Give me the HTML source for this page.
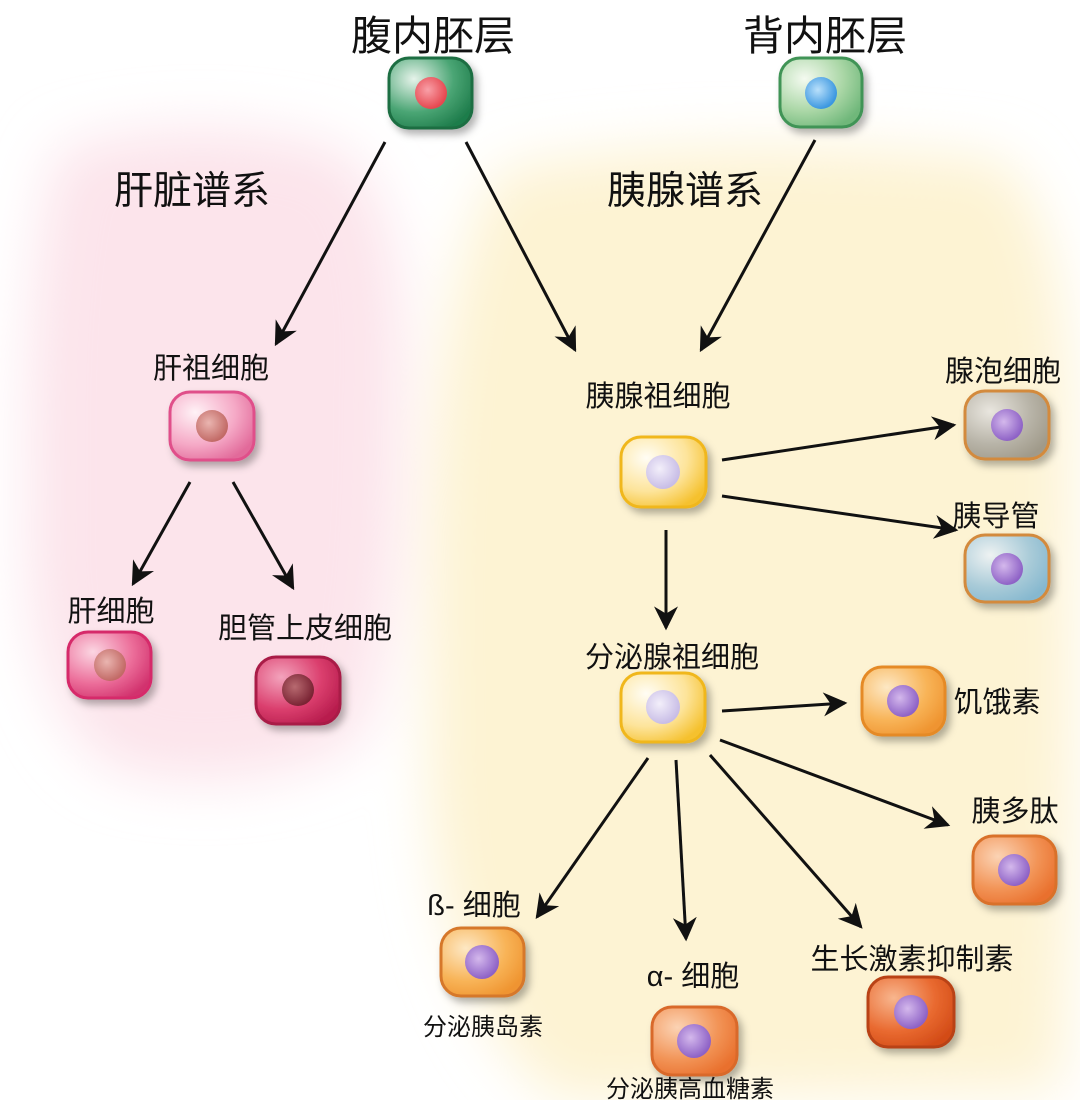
<!DOCTYPE html>
<html><head><meta charset="utf-8"><style>
html,body{margin:0;padding:0;background:#fff;}
svg text{font-family:"Liberation Sans","Noto Sans CJK SC",sans-serif;fill:#111;}
</style></head><body>
<svg width="1080" height="1100" viewBox="0 0 1080 1100" xmlns="http://www.w3.org/2000/svg">
<defs>
<filter id="blur" x="-20%" y="-20%" width="140%" height="140%"><feGaussianBlur stdDeviation="28"/></filter>
<filter id="sh" x="-30%" y="-30%" width="160%" height="160%"><feDropShadow dx="4" dy="5" stdDeviation="4" flood-color="#000" flood-opacity="0.3"/></filter>
<marker id="ah" viewBox="0 0 10 10" refX="9" refY="5" markerWidth="8" markerHeight="8" orient="auto"><path d="M0,0 L10,5 L0,10 L3,5 z" fill="#111"/></marker>
<radialGradient id="gG" cx="0.3" cy="0.3" r="0.8"><stop offset="0" stop-color="#e6f3ea"/><stop offset="0.6" stop-color="#4aa574"/><stop offset="1" stop-color="#1f7d4c"/></radialGradient>
<radialGradient id="gG2" cx="0.3" cy="0.3" r="0.8"><stop offset="0" stop-color="#f4faf0"/><stop offset="0.6" stop-color="#a9d6a5"/><stop offset="1" stop-color="#6fb77a"/></radialGradient>
<radialGradient id="gP" cx="0.3" cy="0.3" r="0.8"><stop offset="0" stop-color="#fff2f6"/><stop offset="0.6" stop-color="#f5a9c6"/><stop offset="1" stop-color="#e26a9a"/></radialGradient>
<radialGradient id="gP2" cx="0.3" cy="0.3" r="0.8"><stop offset="0" stop-color="#fbd6e2"/><stop offset="0.6" stop-color="#ec6e9a"/><stop offset="1" stop-color="#d2336e"/></radialGradient>
<radialGradient id="gP3" cx="0.3" cy="0.3" r="0.8"><stop offset="0" stop-color="#f3a3bc"/><stop offset="0.6" stop-color="#db3f6e"/><stop offset="1" stop-color="#b81d4e"/></radialGradient>
<radialGradient id="gY" cx="0.3" cy="0.3" r="0.8"><stop offset="0" stop-color="#fffdf5"/><stop offset="0.6" stop-color="#fde49a"/><stop offset="1" stop-color="#f5c12f"/></radialGradient>
<radialGradient id="gO" cx="0.3" cy="0.3" r="0.8"><stop offset="0" stop-color="#fde8c4"/><stop offset="0.6" stop-color="#f8b458"/><stop offset="1" stop-color="#ef9430"/></radialGradient>
<radialGradient id="gO2" cx="0.3" cy="0.3" r="0.8"><stop offset="0" stop-color="#fbd3b4"/><stop offset="0.6" stop-color="#f29457"/><stop offset="1" stop-color="#e9702d"/></radialGradient>
<radialGradient id="gR" cx="0.3" cy="0.3" r="0.8"><stop offset="0" stop-color="#f8b68e"/><stop offset="0.6" stop-color="#e96a30"/><stop offset="1" stop-color="#d34c18"/></radialGradient>
<radialGradient id="gA" cx="0.3" cy="0.3" r="0.8"><stop offset="0" stop-color="#e9e6df"/><stop offset="0.6" stop-color="#b8b4a8"/><stop offset="1" stop-color="#a09a8a"/></radialGradient>
<radialGradient id="gB" cx="0.3" cy="0.3" r="0.8"><stop offset="0" stop-color="#eef2f2"/><stop offset="0.6" stop-color="#a9cbd8"/><stop offset="1" stop-color="#86b8cf"/></radialGradient>
<radialGradient id="nR" cx="0.4" cy="0.4" r="0.6"><stop offset="0" stop-color="#f9a0a8"/><stop offset="1" stop-color="#e5474f"/></radialGradient>
<radialGradient id="nB" cx="0.4" cy="0.4" r="0.6"><stop offset="0" stop-color="#b9e0fb"/><stop offset="1" stop-color="#3b97e0"/></radialGradient>
<radialGradient id="nPk" cx="0.4" cy="0.4" r="0.6"><stop offset="0" stop-color="#eab5b0"/><stop offset="1" stop-color="#c26a66"/></radialGradient>
<radialGradient id="nDk" cx="0.4" cy="0.4" r="0.6"><stop offset="0" stop-color="#b86a70"/><stop offset="1" stop-color="#7a2434"/></radialGradient>
<radialGradient id="nL" cx="0.4" cy="0.4" r="0.6"><stop offset="0" stop-color="#f3effa"/><stop offset="1" stop-color="#c8bde6"/></radialGradient>
<radialGradient id="nV" cx="0.4" cy="0.4" r="0.6"><stop offset="0" stop-color="#d4b8ec"/><stop offset="1" stop-color="#8e62c6"/></radialGradient>
</defs>

<g filter="url(#blur)">
<path d="M60,150 Q200,110 340,150 Q410,200 400,400 Q400,650 360,740 Q250,800 120,770 Q20,720 30,500 Q25,250 60,150 Z" fill="#fce4eb"/>
<path d="M500,170 Q700,130 1000,160 Q1075,220 1070,500 Q1075,900 1060,1090 L560,1100 Q420,1000 430,700 Q420,300 500,170 Z" fill="#fdf3d3"/>
</g>

<g stroke="#111" stroke-width="3" fill="none" marker-end="url(#ah)">
<line x1="385" y1="142" x2="276" y2="344"/>
<line x1="466" y1="142" x2="575" y2="350"/>
<line x1="815" y1="140" x2="701" y2="350"/>
<line x1="190" y1="482" x2="133" y2="584"/>
<line x1="233" y1="482" x2="293" y2="588"/>
<line x1="722" y1="460" x2="954" y2="425"/>
<line x1="722" y1="496" x2="956" y2="530"/>
<line x1="666" y1="530" x2="666" y2="628"/>
<line x1="722" y1="711" x2="845" y2="703"/>
<line x1="720" y1="740" x2="948" y2="825"/>
<line x1="648" y1="758" x2="537" y2="917"/>
<line x1="676" y1="760" x2="686" y2="939"/>
<line x1="710" y1="755" x2="861" y2="927"/>
</g>

<g filter="url(#sh)" stroke-width="3">
<rect x="389" y="58" width="83" height="70" rx="20" fill="url(#gG)" stroke="#1b6e42"/>
<rect x="780" y="58" width="82" height="69" rx="20" fill="url(#gG2)" stroke="#3f9457"/>
<rect x="170" y="392" width="84" height="68" rx="20" fill="url(#gP)" stroke="#e0508a"/>
<rect x="68" y="632" width="83" height="66" rx="20" fill="url(#gP2)" stroke="#d6296a"/>
<rect x="256" y="657" width="84" height="67" rx="20" fill="url(#gP3)" stroke="#a91a46"/>
<rect x="621" y="437" width="85" height="70" rx="20" fill="url(#gY)" stroke="#f0b71e"/>
<rect x="965" y="391" width="84" height="68" rx="20" fill="url(#gA)" stroke="#d38a3c"/>
<rect x="965" y="535" width="84" height="67" rx="20" fill="url(#gB)" stroke="#d38a3c"/>
<rect x="621" y="673" width="84" height="69" rx="20" fill="url(#gY)" stroke="#f0b71e"/>
<rect x="862" y="667" width="83" height="68" rx="20" fill="url(#gO)" stroke="#e58a25"/>
<rect x="973" y="836" width="83" height="68" rx="20" fill="url(#gO2)" stroke="#d9712c"/>
<rect x="441" y="928" width="83" height="68" rx="20" fill="url(#gO)" stroke="#d6782b"/>
<rect x="652" y="1007" width="85" height="68" rx="20" fill="url(#gO2)" stroke="#d9692c"/>
<rect x="868" y="977" width="86" height="70" rx="20" fill="url(#gR)" stroke="#b94316"/>
</g>
<g>
<circle cx="431" cy="93" r="16" fill="url(#nR)"/>
<circle cx="821" cy="93" r="16" fill="url(#nB)"/>
<circle cx="212" cy="426" r="16" fill="url(#nPk)"/>
<circle cx="110" cy="665" r="16" fill="url(#nPk)"/>
<circle cx="298" cy="690" r="16" fill="url(#nDk)"/>
<circle cx="663" cy="472" r="17" fill="url(#nL)"/>
<circle cx="1007" cy="425" r="16" fill="url(#nV)"/>
<circle cx="1007" cy="569" r="16" fill="url(#nV)"/>
<circle cx="663" cy="707" r="17" fill="url(#nL)"/>
<circle cx="903" cy="701" r="16" fill="url(#nV)"/>
<circle cx="1014" cy="870" r="16" fill="url(#nV)"/>
<circle cx="482" cy="962" r="17" fill="url(#nV)"/>
<circle cx="694" cy="1041" r="17" fill="url(#nV)"/>
<circle cx="911" cy="1012" r="17" fill="url(#nV)"/>
</g>

<g font-size="41" text-anchor="middle">
<text x="433" y="50">腹内胚层</text>
<text x="825" y="50">背内胚层</text>
</g>
<g font-size="39" text-anchor="middle">
<text x="192" y="204">肝脏谱系</text>
<text x="685" y="204">胰腺谱系</text>
</g>
<g font-size="29" text-anchor="middle">
<text x="211" y="378">肝祖细胞</text>
<text x="111" y="621">肝细胞</text>
<text x="305" y="638">胆管上皮细胞</text>
<text x="658" y="406">胰腺祖细胞</text>
<text x="1003" y="381">腺泡细胞</text>
<text x="996" y="526">胰导管</text>
<text x="672" y="667">分泌腺祖细胞</text>
<text x="997" y="712">饥饿素</text>
<text x="1015" y="821">胰多肽</text>
<text x="474" y="915">ß- 细胞</text>
<text x="693" y="986">α- 细胞</text>
<text x="912" y="969">生长激素抑制素</text>
</g>
<g font-size="24" text-anchor="middle">
<text x="483" y="1035">分泌胰岛素</text>
<text x="690" y="1097">分泌胰高血糖素</text>
</g>
</svg>
</body></html>
